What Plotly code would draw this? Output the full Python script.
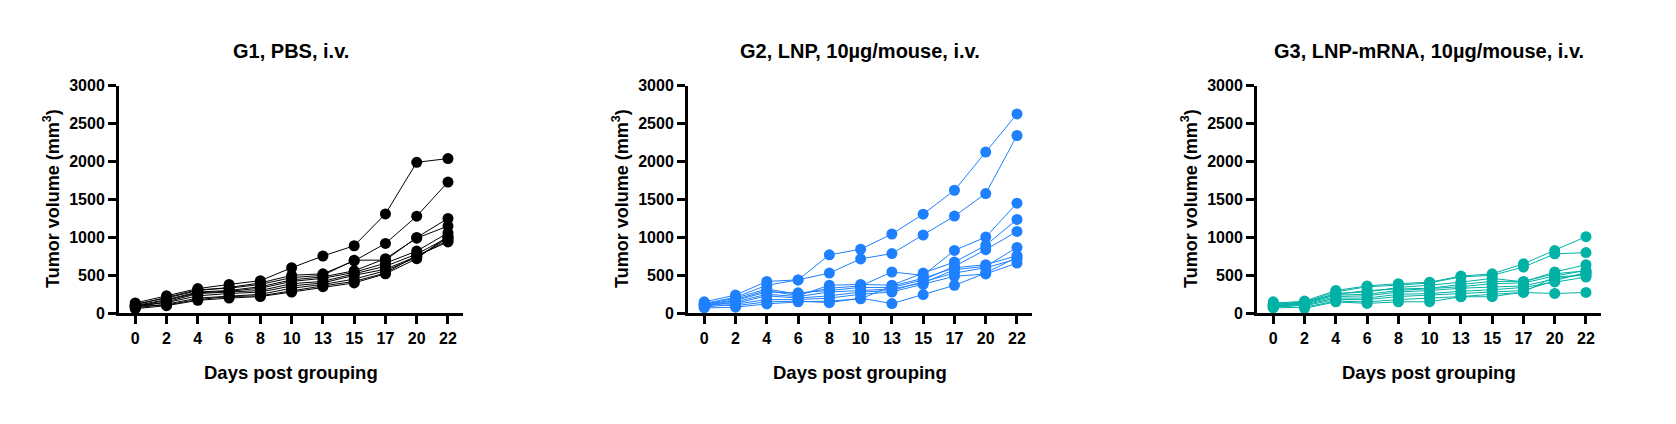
import plotly.graph_objects as go

days = ["0", "2", "4", "6", "8", "10", "13", "15", "17", "20", "22"]
titles = ["G1, PBS, i.v.", "G2, LNP, 10µg/mouse, i.v.", "G3, LNP-mRNA, 10µg/mouse, i.v."]
y_ticks = [0, 500, 1000, 1500, 2000, 2500, 3000]

g1 = [
    [135, 230, 325, 380, 430, 600, 755, 890, 1310, 1990, 2040],
    [120, 200, 300, 340, 400, 500, 520, 690, 920, 1280, 1730],
    [110, 210, 310, 330, 380, 470, 500, 700, 700, 1000, 1250],
    [100, 180, 280, 300, 350, 440, 480, 560, 720, 990, 1150],
    [90, 170, 270, 290, 330, 420, 460, 540, 660, 820, 1060],
    [80, 150, 260, 280, 300, 390, 420, 520, 620, 780, 1000],
    [100, 140, 230, 260, 280, 360, 400, 500, 580, 750, 960],
    [70, 120, 200, 230, 250, 330, 380, 450, 560, 740, 990],
    [90, 110, 180, 220, 230, 300, 360, 420, 530, 760, 940],
    [60, 100, 170, 200, 220, 280, 350, 400, 520, 720, 1020],
]
g2 = [
    [150, 240, 420, 440, 770, 844, 1045, 1307, 1622, 2125, 2628],
    [130, 210, 370, 440, 530, 717, 787, 1032, 1281, 1578, 2344],
    [120, 200, 320, 250, 330, 360, 544, 500, 829, 1004, 1452],
    [110, 180, 300, 230, 370, 380, 370, 530, 675, 895, 1237],
    [100, 170, 280, 270, 300, 340, 340, 440, 618, 838, 1079],
    [90, 150, 250, 220, 280, 300, 320, 400, 575, 618, 868],
    [140, 130, 230, 200, 230, 280, 300, 420, 530, 600, 715],
    [80, 120, 180, 180, 200, 250, 280, 380, 487, 518, 662],
    [120, 100, 150, 160, 140, 200, 127, 246, 368, 530, 740],
    [70, 80, 123, 150, 160, 190, 360, 460, 600, 640, 760],
]
g3 = [
    [130, 160, 300, 360, 390, 410, 490, 520, 652, 826, 1010],
    [120, 150, 280, 350, 370, 400, 480, 500, 609, 783, 800],
    [110, 140, 260, 280, 340, 370, 410, 460, 413, 544, 640],
    [100, 130, 240, 250, 300, 320, 350, 390, 400, 491, 565],
    [90, 120, 220, 230, 280, 300, 330, 350, 361, 450, 522],
    [80, 110, 200, 200, 250, 260, 290, 310, 340, 413, 478],
    [150, 100, 180, 180, 220, 240, 260, 283, 300, 430, 540],
    [70, 80, 160, 150, 180, 200, 220, 250, 274, 261, 274],
    [110, 65, 150, 130, 150, 152, 218, 218, 280, 480, 500],
    [90, 140, 250, 300, 320, 330, 380, 420, 420, 520, 560],
]
groups = [g1, g2, g3]
colors = ["#000000", "#1E80FF", "#00B2A5"]

W, H = 1676, 424
axis_left = [119, 688, 1257]
axis_w = 344
y_top, y_bot = 81, 318
title_y, xtitle_y, ytitle_y = 45, 380, 199
FONT = "Liberation Sans, Arial, sans-serif"

fig = go.Figure()
ann = []
for i, (grp, col) in enumerate(zip(groups, colors)):
    xa = "x" if i == 0 else f"x{i+1}"
    ya = "y" if i == 0 else f"y{i+1}"
    for series in grp:
        fig.add_trace(go.Scatter(
            x=list(range(len(days))), y=series, xaxis=xa, yaxis=ya,
            mode="lines+markers", showlegend=False, cliponaxis=False,
            line=dict(color=col, width=1),
            marker=dict(color=col, size=11, symbol="circle"),
        ))
    d0 = axis_left[i] / W
    d1 = (axis_left[i] + axis_w) / W
    key = "" if i == 0 else str(i + 1)
    fig.update_layout(**{
        f"xaxis{key}": dict(
            domain=[d0, d1], range=[-0.52, 10.48], anchor=ya,
            tickmode="array", tickvals=list(range(len(days))), ticktext=days,
            showgrid=False, zeroline=False, showline=True, linecolor="black", linewidth=3,
            ticks="outside", ticklen=8, tickwidth=2.5, tickcolor="black", ticklabelstandoff=1,
            tickfont=dict(family=FONT, size=16, color="black", weight="bold"),
        ),
        f"yaxis{key}": dict(
            domain=[1 - y_bot / H, 1 - y_top / H], range=[0, 3000], anchor=xa,
            tickmode="array", tickvals=y_ticks,
            showgrid=False, zeroline=False, showline=True, linecolor="black", linewidth=3,
            ticks="outside", ticklen=8, tickwidth=2.5, tickcolor="black",
            tickfont=dict(family=FONT, size=16, color="black", weight="bold"),
        ),
    })
    cx = (axis_left[i] + axis_w / 2) / W
    ann.append(dict(text=f"<b>{titles[i]}</b>", x=cx, y=1 - title_y / H, xref="paper", yref="paper",
                    showarrow=False, font=dict(family=FONT, size=20, color="black"),
                    xanchor="center", yanchor="middle"))
    ann.append(dict(text="<b>Days post grouping</b>", x=cx, y=1 - xtitle_y / H, xref="paper", yref="paper",
                    showarrow=False, font=dict(family=FONT, size=18.5, color="black"),
                    xanchor="center", yanchor="middle"))
    ann.append(dict(text="<b>Tumor volume (mm<sup>3</sup>)</b>", x=(axis_left[i] - 68) / W,
                    y=1 - ytitle_y / H, xref="paper", yref="paper", textangle=-90,
                    showarrow=False, font=dict(family=FONT, size=18, color="black"),
                    xanchor="center", yanchor="middle"))

fig.update_layout(
    width=W, height=H, margin=dict(l=0, r=0, t=0, b=0),
    paper_bgcolor="white", plot_bgcolor="white",
    annotations=ann,
)
fig.write_html(
    "out.html",
    config={"displayModeBar": False},
    post_script=(
        "var s=document.createElement('style');"
        "s.textContent='html,body{margin:0;padding:0;width:1676px;height:424px;overflow:hidden;}';"
        "document.head.appendChild(s);"
    ),
)
